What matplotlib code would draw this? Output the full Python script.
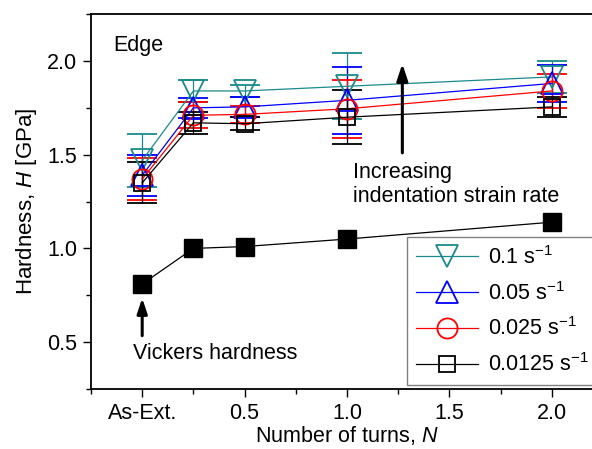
"""Hardness vs number of turns (edge), nanoindentation and Vickers."""
import matplotlib
matplotlib.use('Agg')
import matplotlib.pyplot as plt
import matplotlib.ticker as ticker
from matplotlib.lines import Line2D

plt.rcParams['font.family'] = ['Liberation Sans', 'DejaVu Sans']
plt.rcParams['mathtext.fontset'] = 'custom'
plt.rcParams['mathtext.rm'] = 'Liberation Sans'
plt.rcParams['mathtext.it'] = 'Liberation Sans:italic'

# number of turns (As-Ext. plotted at 0)
turns = [0.0, 0.25, 0.5, 1.0, 2.0]

# nanoindentation hardness [GPa] and error per strain rate
rate_labels = ['0.1 s$^{-1}$', '0.05 s$^{-1}$', '0.025 s$^{-1}$', '0.0125 s$^{-1}$']
h_01 = [1.47, 1.84, 1.84, 1.865, 1.915]
e_01 = [0.14, 0.06, 0.03, 0.175, 0.085]
h_005 = [1.39, 1.75, 1.755, 1.79, 1.88]
e_005 = [0.11, 0.055, 0.055, 0.18, 0.10]
h_0025 = [1.37, 1.71, 1.715, 1.745, 1.84]
e_0025 = [0.11, 0.07, 0.045, 0.155, 0.09]
h_00125 = [1.35, 1.67, 1.665, 1.70, 1.755]
e_00125 = [0.11, 0.06, 0.035, 0.145, 0.055]

# Vickers hardness [GPa]
vickers = [0.81, 1.00, 1.01, 1.05, 1.14]

x_ticks = [0.0, 0.5, 1.0, 1.5, 2.0]
x_ticklabels = ['As-Ext.', '0.5', '1.0', '1.5', '2.0']

fig = plt.figure(figsize=(5.92, 4.49), dpi=100)
ax = fig.add_axes([0.1537, 0.1336, 0.865, 0.835])

series = [
    (h_01, e_01, '#1a8a8a', 'v', 16.5),
    (h_005, e_005, '#0000ff', '^', 16.5),
    (h_0025, e_0025, '#ff0000', 'o', 14.5),
    (h_00125, e_00125, '#000000', 's', 12),
]
handles = []
for (h, e, c, m, ms), lab in zip(series, rate_labels):
    ax.errorbar(turns, h, yerr=e, color=c, lw=0.9, elinewidth=0.9,
                capsize=11, capthick=0.9, marker=m, ms=ms,
                mfc='none', mec=c, mew=1.3)
    handles.append(Line2D([], [], color=c, lw=0.9, marker=m, ms=ms,
                          mfc='none', mec=c, mew=1.3, label=lab))

ax.plot(turns, vickers, color='black', lw=0.9, marker='s', ms=12.5,
        mfc='black', mec='black')

ax.set_xlim(-0.25, 2.25)
ax.set_ylim(0.25, 2.25)
ax.set_xticks(x_ticks)
ax.set_xticklabels(x_ticklabels)
ax.xaxis.set_minor_locator(ticker.MultipleLocator(0.25))
ax.set_yticks([0.5, 1.0, 1.5, 2.0])
ax.yaxis.set_major_formatter(ticker.FormatStrFormatter('%.1f'))
ax.yaxis.set_minor_locator(ticker.MultipleLocator(0.25))
ax.tick_params(which='major', direction='out', length=6, width=1,
               labelsize=15.5, pad=4)
ax.tick_params(which='minor', direction='out', length=3.5, width=1)
for sp in ax.spines.values():
    sp.set_linewidth(1.3)

ax.set_xlabel('Number of turns, $\\mathit{N}$', fontsize=15.5, labelpad=0)
ax.set_ylabel('Hardness, $\\mathit{H}$ [GPa]', fontsize=16, labelpad=6)

ax.text(0.043, 0.915, 'Edge', transform=ax.transAxes, fontsize=15.5,
        va='center', ha='left')
ax.annotate('', xy=(1.27, 2.0), xytext=(1.27, 1.495),
            arrowprops=dict(arrowstyle='-|>,head_length=1.0,head_width=0.33',
                            color='black', lw=2.2))
ax.text(1.03, 1.34, 'Increasing\nindentation strain rate', fontsize=15.5,
        ha='left', va='center', linespacing=1.15)
ax.annotate('', xy=(0.0, 0.75), xytext=(0.0, 0.52),
            arrowprops=dict(arrowstyle='-|>,head_length=0.9,head_width=0.3',
                            color='black', lw=2.2))
ax.text(-0.045, 0.44, 'Vickers hardness', fontsize=15.5, ha='left',
        va='center')

leg = ax.legend(handles=handles, loc='lower left',
                bbox_to_anchor=(0.617, 0.011, 0.45, 0.39), mode='expand',
                fontsize=15.5, handlelength=2.9, fancybox=False,
                edgecolor='#808080', framealpha=1, borderpad=0.4,
                labelspacing=0.6, handletextpad=0.45, borderaxespad=0)
leg.get_frame().set_linewidth(1.0)

fig.savefig('out.png', dpi=100)
